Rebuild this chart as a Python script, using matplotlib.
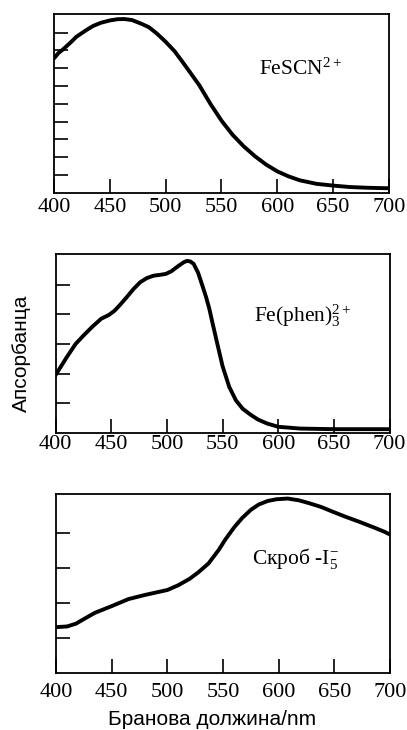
# Absorption spectra of three coloured complexes (three stacked panels)
import matplotlib
matplotlib.use("Agg")
import matplotlib.pyplot as plt

plt.rcParams['mathtext.fontset'] = 'custom'
plt.rcParams['mathtext.rm'] = 'Liberation Serif'
plt.rcParams['mathtext.it'] = 'Liberation Serif:italic'

# data (absorbance in arbitrary units)
fescn_wl = [400, 404, 408, 415, 420, 428, 435, 442, 450, 457, 463, 470, 478, 485,
            492, 500, 508, 515, 522, 530, 540, 550, 560, 570, 580, 590, 600, 610,
            620, 635, 650, 665, 680, 700]
fescn_abs = [7.55, 7.85, 8.05, 8.45, 8.76, 9.1, 9.37, 9.55, 9.68, 9.75, 9.76, 9.7,
             9.5, 9.3, 8.95, 8.48, 7.95, 7.36, 6.75, 6.05, 5.0, 4.05, 3.25, 2.6,
             2.05, 1.58, 1.2, 0.92, 0.7, 0.5, 0.4, 0.32, 0.28, 0.25]

phen_wl = [400, 405, 410, 418, 425, 433, 441, 448, 453, 458, 464, 470, 476, 482,
           488, 494, 499, 504, 510, 515, 518, 521, 524, 528, 532, 535, 538, 541,
           545, 550, 556, 562, 568, 575, 582, 590, 600, 620, 650, 700]
phen_abs = [1.95, 2.25, 2.55, 3.0, 3.28, 3.58, 3.85, 3.98, 4.12, 4.32, 4.58, 4.85,
            5.08, 5.22, 5.3, 5.33, 5.36, 5.45, 5.62, 5.75, 5.8, 5.78, 5.7, 5.4,
            4.95, 4.6, 4.2, 3.7, 3.05, 2.25, 1.55, 1.1, 0.82, 0.62, 0.45, 0.32,
            0.21, 0.15, 0.13, 0.13]

starch_wl = [400, 410, 418, 425, 435, 450, 465, 480, 490, 500, 510, 520, 528, 537,
             546, 552, 560, 567, 575, 582, 590, 598, 608, 618, 627, 638, 648, 660,
             672, 685, 695, 700]
starch_abs = [1.3, 1.32, 1.4, 1.53, 1.71, 1.9, 2.1, 2.22, 2.29, 2.36, 2.5, 2.68,
              2.87, 3.12, 3.5, 3.8, 4.15, 4.41, 4.65, 4.8, 4.9, 4.95, 4.97, 4.92,
              4.84, 4.73, 4.6, 4.45, 4.31, 4.15, 4.02, 3.94]

x_ticks = [400, 450, 500, 550, 600, 650, 700]

panels = [
    # (wl, abs, axes rect, ymax, yticks, label, label pos, tick pad)
    (fescn_wl, fescn_abs, [0.1327, 0.736, 0.823, 0.2455], 10.07, range(1, 10),
     "FeSCN$^{2+}$", (584, 6.6), 4.0),
    (phen_wl, phen_abs, [0.1364, 0.4068, 0.821, 0.2452], 6.03, range(1, 6),
     "Fe(phen)$_3^{2+}$", (578.6, 3.75), 1.5),
    (starch_wl, starch_abs, [0.1376, 0.0785, 0.821, 0.2448], 5.1, range(1, 5),
     "Скроб -I$_5^{-}$", (576.4, 3.1), 7.5),
]

fig = plt.figure(figsize=(4.07, 7.30), dpi=100)

for wl, ab, rect, ymax, yt, name, pos, pad in panels:
    ax = fig.add_axes(rect)
    ax.plot(wl, ab, color='black', linewidth=2.8, solid_capstyle='round',
            solid_joinstyle='round')
    ax.set_xlim(400, 700)
    ax.set_ylim(0, ymax)
    ax.set_xticks(x_ticks)
    ax.set_yticks(list(yt))
    ax.set_yticklabels([])
    ax.tick_params(axis='both', direction='in', length=10, width=1.2)
    ax.tick_params(axis='x', pad=pad, labelsize=16)
    for lab in ax.get_xticklabels():
        lab.set_fontfamily('Liberation Serif')
    for sp in ax.spines.values():
        sp.set_linewidth(1.3)
    ax.text(pos[0], pos[1], name, family='Liberation Serif', fontsize=15.5,
            ha='left', va='baseline')

fig.text(0.053, 0.516, "Апсорбанца", rotation=90, ha='center', va='center',
         family='Liberation Sans', fontsize=15)
fig.text(0.52, 0.0065, "Бранова должина/nm", ha='center', va='baseline',
         family='Liberation Sans', fontsize=15)

fig.savefig("out.png", dpi=100)
